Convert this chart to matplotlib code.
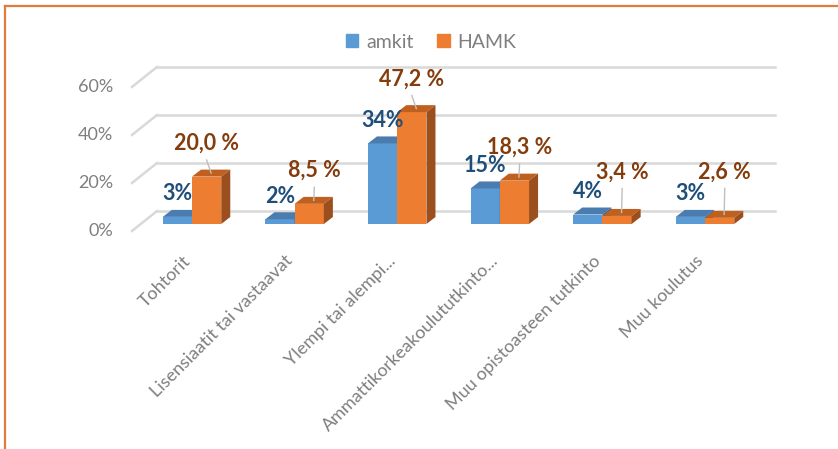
import matplotlib.pyplot as plt
from matplotlib.patches import Polygon
from matplotlib.lines import Line2D

categories = ['Tohtorit', 'Lisensiaatit tai vastaavat', 'Ylempi tai alempi...',
              'Ammattikorkeakoulututkinto...', 'Muu opistoasteen tutkinto', 'Muu koulutus']
amkit = [3, 2, 34, 15, 4, 3]
hamk = [20.0, 8.5, 47.2, 18.3, 3.4, 2.6]
yticks = [0, 20, 40, 60]

plt.rcParams['font.family'] = ['Lato', 'DejaVu Sans']

fig = plt.figure(figsize=(8.38, 4.49), dpi=100)
ax = fig.add_axes([0, 0, 1, 1])
# axis limits chosen so one category = 102.6 px and 1 % = 2.37 px
ax.set_xlim(-192 / 102.6, (838 - 192) / 102.6)
ax.set_ylim((224 - 449) / 2.37, 224 / 2.37)
ax.axis('off')

# fake 3d walls
sc = 1.013
front_y0, back_y0 = -2.95, 5.49
left_front, left_back, right_back = -0.585, -0.341, 5.68
for v in yticks:
    ax.plot([left_back, right_back], [back_y0 + v * sc] * 2, color='#d9d9d9', lw=1.8, zorder=1)
    ax.plot([left_front, left_back], [front_y0 + v * sc, back_y0 + v * sc], color='#d9d9d9', lw=1.8, zorder=1)
    ax.text(-0.77, front_y0 + v * sc, f'{v}%', ha='right', va='center', fontsize=13, color='#7f7f7f')

w = 0.285
dx, dy = 0.088, 2.95
blue = ('#5b9bd5', '#4a7cb0', '#3a6592')
orange = ('#ed7d31', '#c0601f', '#9c4f1e')


def box(x0, h, cols):
    ax.bar(x0, h, width=w, align='edge', color=cols[0], lw=0, zorder=3)
    ax.add_patch(Polygon([(x0, h), (x0 + w, h), (x0 + w + dx, h + dy), (x0 + dx, h + dy)],
                         closed=True, color=cols[1], lw=0, zorder=3))
    ax.add_patch(Polygon([(x0 + w, 0), (x0 + w + dx, dy), (x0 + w + dx, h + dy), (x0 + w, h)],
                         closed=True, color=cols[2], lw=0, zorder=3))


for i in range(len(categories)):
    box(i - w, amkit[i], blue)
    box(i, hamk[i], orange)

    # labels
    ax.text(i - w / 2, amkit[i] + 9.7, f'{amkit[i]}%', ha='center', va='center',
            fontsize=15.5, fontweight='bold', color='#1f4e79', zorder=5)
    ly = max(hamk[i] + 14, 22)
    lx = i + w / 2 + (0.05 if hamk[i] < 19 else 0)
    ax.text(lx, ly, f'{hamk[i]:.1f} %'.replace('.', ','), ha='center', va='center',
            fontsize=15.5, fontweight='bold', color='#843c0c', zorder=5)
    if ly - 7 > hamk[i] + dy:
        ax.plot([lx, i + w / 2 + dx / 2], [ly - 7, hamk[i] + dy / 2], color='#bfbfbf', lw=1, zorder=4)

    ax.text(i - 0.04, -14.5, categories[i], rotation=45, rotation_mode='anchor',
            ha='right', va='center', fontsize=13, color='#7f7f7f')

handles = [Polygon([(0, 0)], color=blue[0]), Polygon([(0, 0)], color=orange[0])]
leg = fig.legend(handles, ['amkit', 'HAMK'], loc='center', bbox_to_anchor=(431 / 838, 1 - 42 / 449),
                 ncol=2, frameon=False, fontsize=14, handlelength=0.65, handleheight=0.65,
                 handletextpad=0.4, columnspacing=1.2)
for t in leg.get_texts():
    t.set_color('#7f7f7f')

# chart border (orange, only top and left are visible)
fig.add_artist(Line2D([5 / 838, 5 / 838], [0, 1 - 6 / 449], color='#e07b3a', lw=1.6))
fig.add_artist(Line2D([5 / 838, 1], [1 - 6 / 449, 1 - 6 / 449], color='#e07b3a', lw=1.6))

fig.savefig('out.png', dpi=100)
